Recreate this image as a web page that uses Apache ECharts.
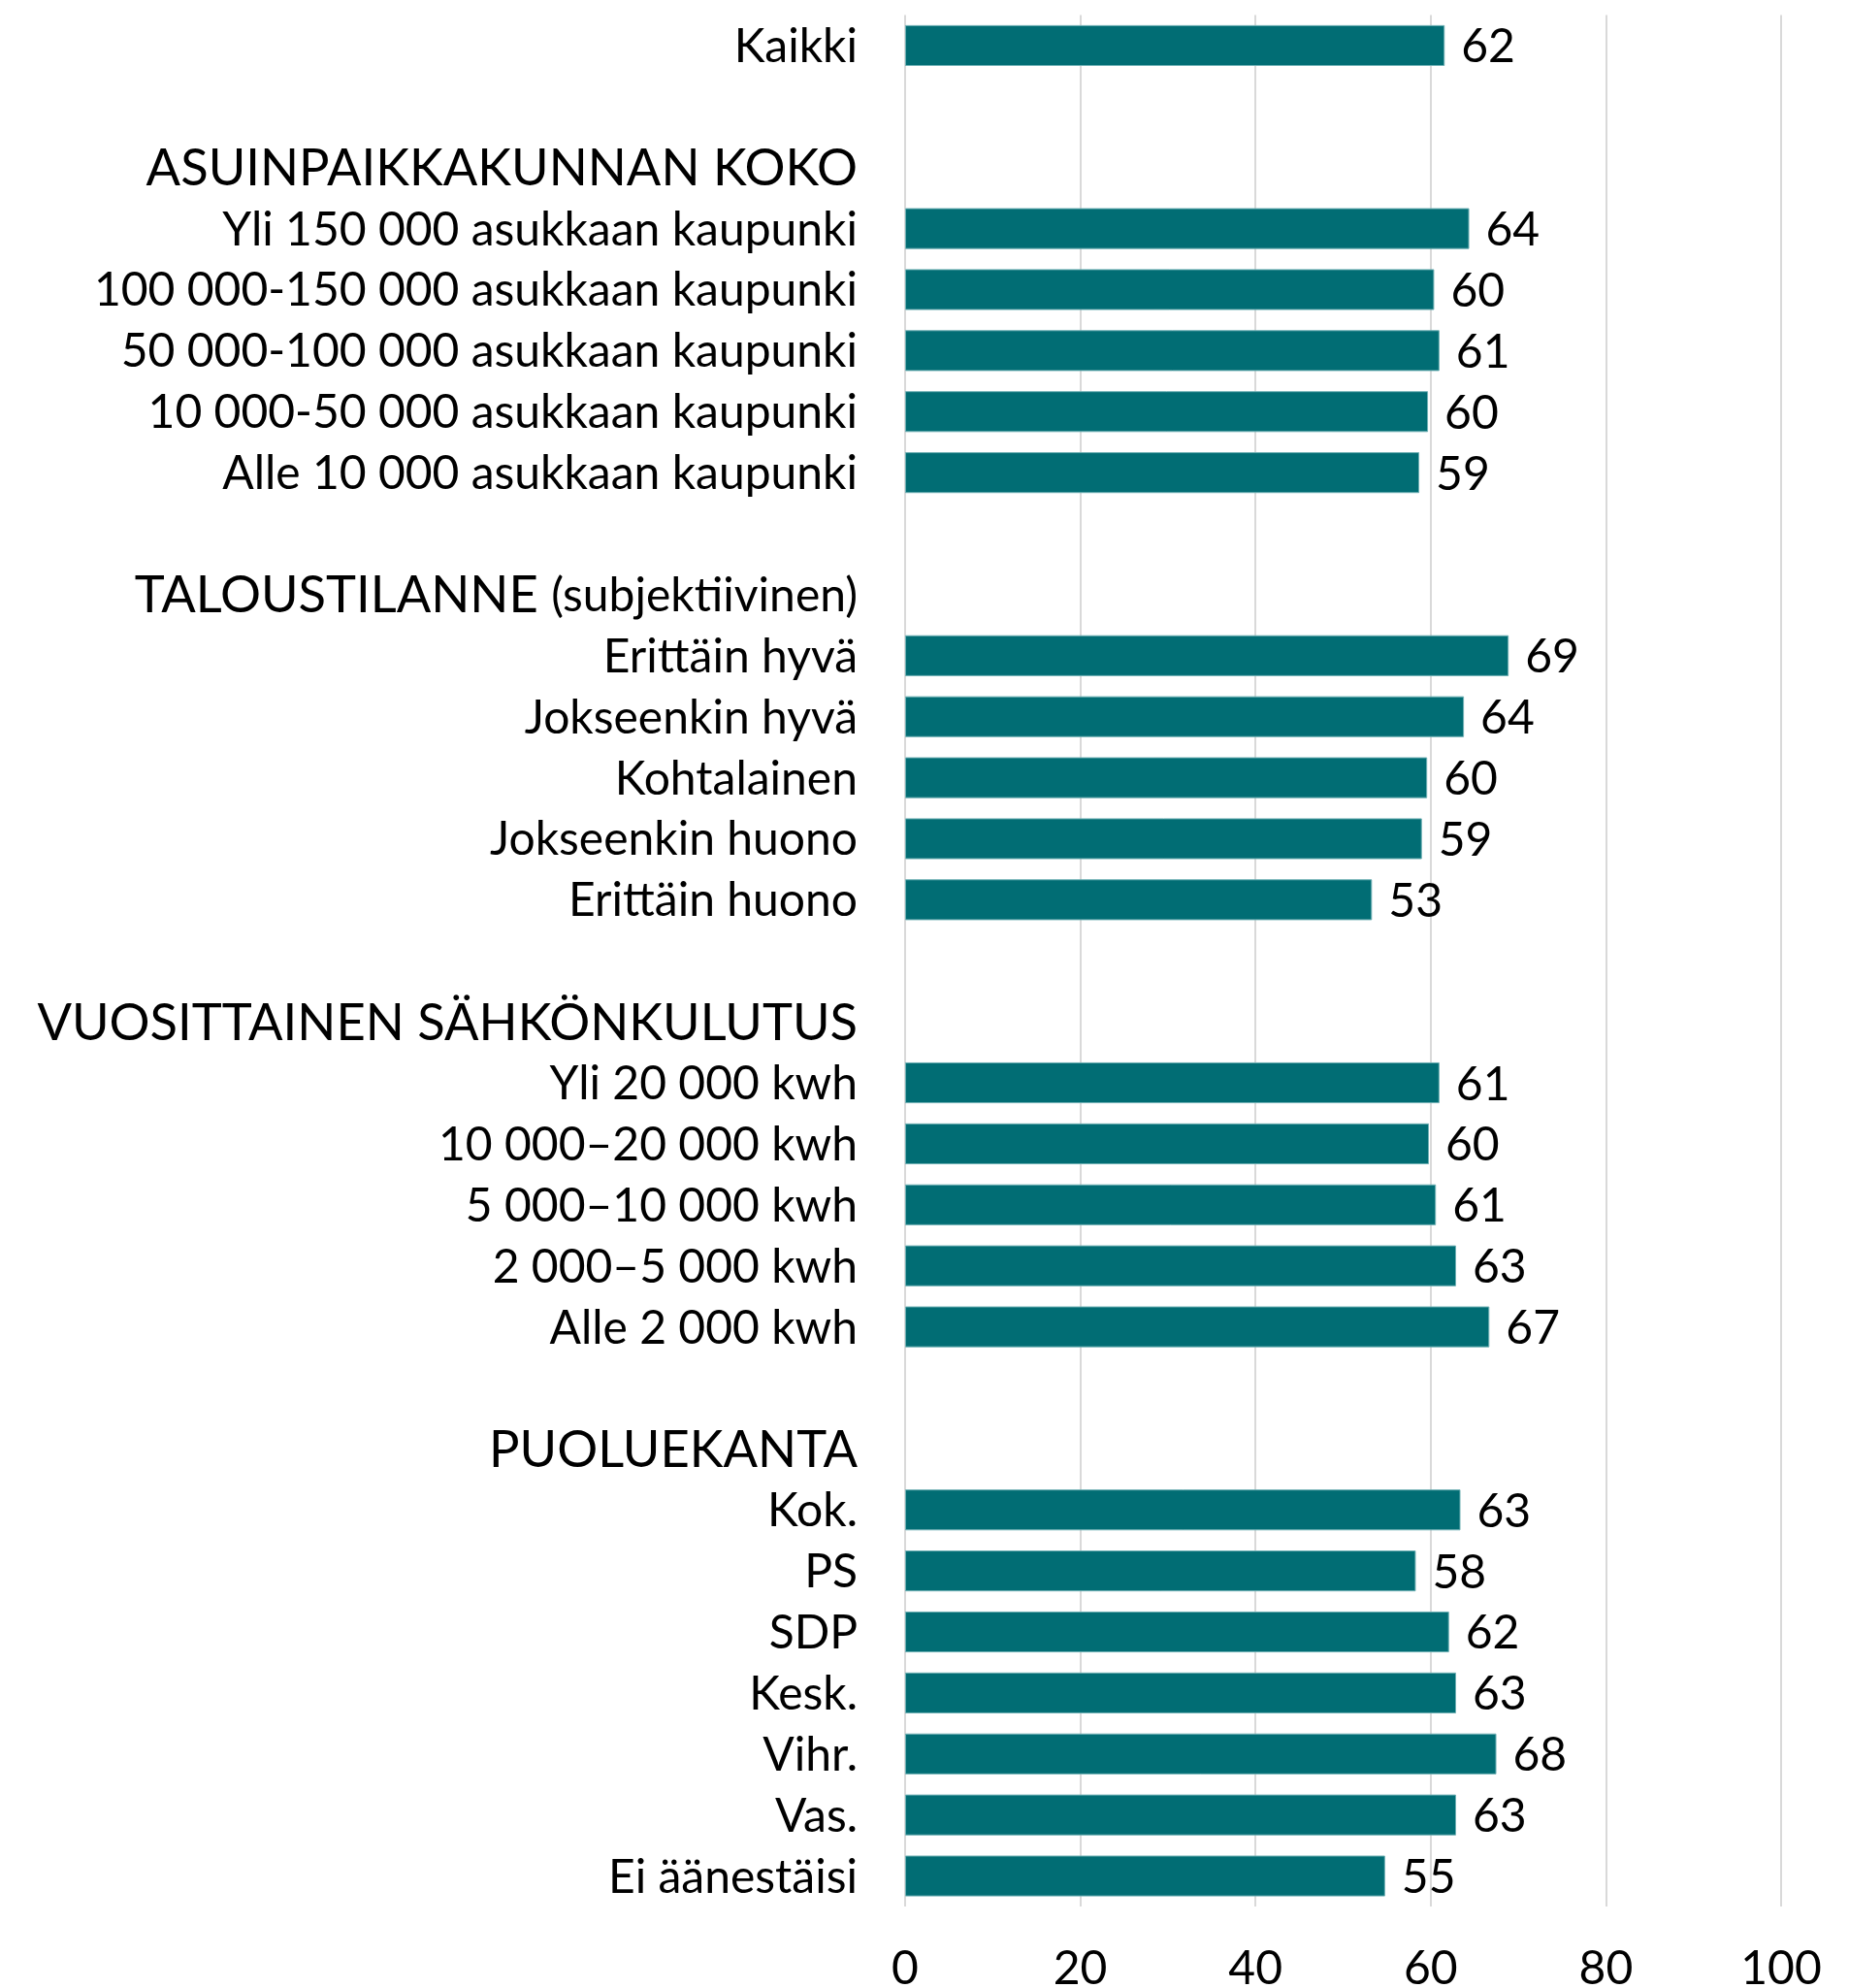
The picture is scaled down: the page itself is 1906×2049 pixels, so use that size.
<!DOCTYPE html>
<html>
<head>
<meta charset="utf-8">
<script src="https://cdn.jsdelivr.net/npm/echarts@6/dist/echarts.min.js"></script>
<style>
html,body{margin:0;padding:0;background:#fff;}
#chart{width:1906px;height:2049px;}
</style>
</head>
<body>
<div id="chart"></div>
<script>
// Categories, top to bottom
const categories = [
  'Kaikki',
  '',
  'ASUINPAIKKAKUNNAN KOKO',
  'Yli 150 000 asukkaan kaupunki',
  '100 000-150 000 asukkaan kaupunki',
  '50 000-100 000 asukkaan kaupunki',
  '10 000-50 000 asukkaan kaupunki',
  'Alle 10 000 asukkaan kaupunki',
  ' ',
  'TALOUSTILANNE (subjektiivinen)',
  'Erittäin hyvä',
  'Jokseenkin hyvä',
  'Kohtalainen',
  'Jokseenkin huono',
  'Erittäin huono',
  '  ',
  'VUOSITTAINEN SÄHKÖNKULUTUS',
  'Yli 20 000 kwh',
  '10 000–20 000 kwh',
  '5 000–10 000 kwh',
  '2 000–5 000 kwh',
  'Alle 2 000 kwh',
  '   ',
  'PUOLUEKANTA',
  'Kok.',
  'PS',
  'SDP',
  'Kesk.',
  'Vihr.',
  'Vas.',
  'Ei äänestäisi'
];
// Bar values (null = header / spacer row)
const values = [
  61.6,
  null,
  null,
  64.4, 60.4, 61.0, 59.7, 58.7,
  null,
  null,
  68.9, 63.8, 59.6, 59.0, 53.3,
  null,
  null,
  61.0, 59.8, 60.6, 62.9, 66.7,
  null,
  null,
  63.4, 58.3, 62.1, 62.9, 67.5, 62.9, 54.8
];
// Value labels shown at bar ends
const valueLabels = [
  '62', '', '',
  '64', '60', '61', '60', '59',
  '', '',
  '69', '64', '60', '59', '53',
  '', '',
  '61', '60', '61', '63', '67',
  '', '',
  '63', '58', '62', '63', '68', '63', '55'
];
const xTicks = [0, 20, 40, 60, 80, 100];

const FONT = 'Lato';
const chart = echarts.init(document.getElementById('chart'), null, {renderer: 'canvas'});
chart.setOption({
  animation: false,
  backgroundColor: '#ffffff',
  grid: {left: 933, right: 70, top: 15.5, bottom: 84, containLabel: false, outerBoundsMode: 'none'},
  xAxis: {
    type: 'value',
    min: xTicks[0],
    max: xTicks[xTicks.length - 1],
    interval: 20,
    axisLine: {show: false},
    axisTick: {show: false},
    splitLine: {show: true, lineStyle: {color: '#d9d9d9', width: 2}},
    axisLabel: {
      margin: 41,
      color: '#000',
      fontFamily: FONT,
      fontSize: 48
    }
  },
  yAxis: {
    type: 'category',
    data: categories,
    inverse: true,
    axisLine: {show: false},
    axisTick: {show: false},
    splitLine: {show: false},
    axisLabel: {
      margin: 49,
      color: '#000',
      fontFamily: FONT,
      fontSize: 48,
      interval: 0,
      padding: [3, 0, 0, 0],
      formatter: function (val) {
        const m = val.match(/^([A-ZÄÖ][A-ZÄÖ ]{3,})(.*)$/);
        if (m) {
          return '{h|' + m[1] + '}' + (m[2] ? '{n|' + m[2] + '}' : '');
        }
        return val;
      },
      rich: {
        h: {fontFamily: FONT, fontSize: 52.5, color: '#000'},
        n: {fontFamily: FONT, fontSize: 48, color: '#000'}
      }
    }
  },
  series: [{
    type: 'bar',
    data: values,
    barCategoryGap: '33%',
    itemStyle: {color: '#016d74', borderColor: '#6fb0b4', borderWidth: 1},
    label: {
      show: true,
      position: 'right',
      distance: 17,
      offset: [0, 2],
      color: '#000',
      fontFamily: FONT,
      fontSize: 48,
      formatter: p => valueLabels[p.dataIndex]
    }
  }]
});
</script>
</body>
</html>
